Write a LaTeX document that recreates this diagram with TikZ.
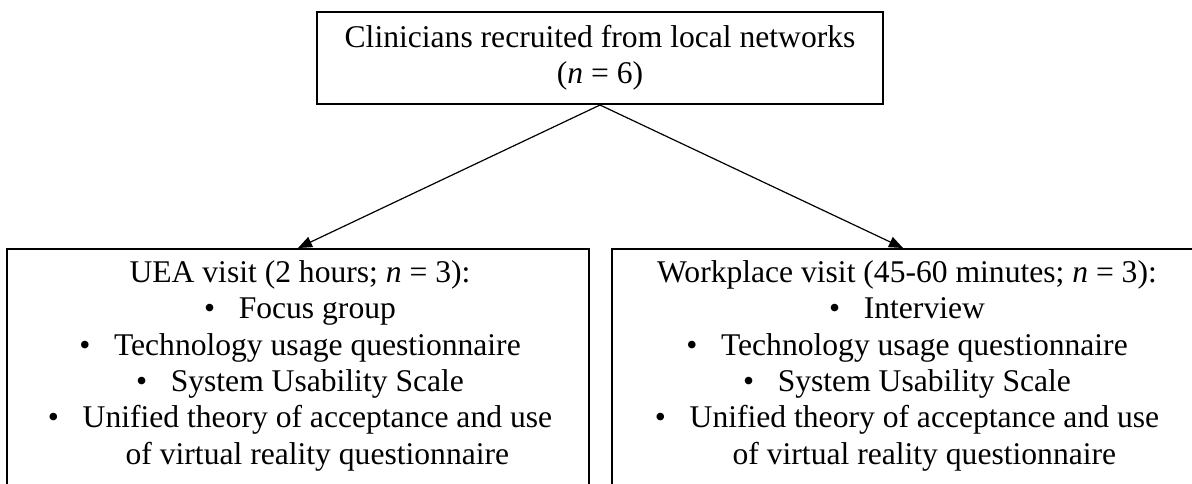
\documentclass[tikz,border=0pt]{standalone}
\usepackage{fontspec}
\setmainfont{Liberation Serif}
\usetikzlibrary{arrows.meta}
\tikzset{
  box/.style={draw=black, line width=1pt, inner sep=0pt},
  txt/.style={align=center, inner sep=0pt, font=\fontsize{15.8}{18.2}\selectfont},
  conn/.style={draw=black, line width=0.6pt, -{Triangle[length=7pt,width=5.5pt]}},
}
\newcommand{\bitem}[1]{\textbullet\hspace{0.75em}#1}
\begin{document}
\begin{tikzpicture}[x=0.5pt,y=-0.5pt]
\useasboundingbox (0,0) rectangle (1192,483);
\clip (0,0) rectangle (1192,483);
\node[box, txt, minimum width=283pt, minimum height=46pt] (top) at (600,58)
  {Clinicians recruited from local networks\\(\textit{n} = 6)};
\node[box, minimum width=291pt, minimum height=150pt, anchor=north] (uea) at (298,248) {};
\node[box, minimum width=291pt, minimum height=150pt, anchor=north] (work) at (903,248) {};
\node[txt, anchor=north] (ueatext) at (300,260)
  {UEA visit (2 hours; \textit{n} = 3):\\
   \bitem{Focus group}\\
   \bitem{Technology usage questionnaire}\\
   \bitem{System Usability Scale}\\
   \textbullet\hspace{0.75em}\begin{tabular}[t]{@{}c@{}}Unified theory of acceptance and use\\of virtual reality questionnaire\end{tabular}};
\node[txt, anchor=north] (worktext) at (907,260)
  {Workplace visit (45-60 minutes; \textit{n} = 3):\\
   \bitem{Interview}\\
   \bitem{Technology usage questionnaire}\\
   \bitem{System Usability Scale}\\
   \textbullet\hspace{0.75em}\begin{tabular}[t]{@{}c@{}}Unified theory of acceptance and use\\of virtual reality questionnaire\end{tabular}};
\draw[conn] (top.south) -- (uea.north);
\draw[conn] (top.south) -- (work.north);
\end{tikzpicture}
\end{document}
